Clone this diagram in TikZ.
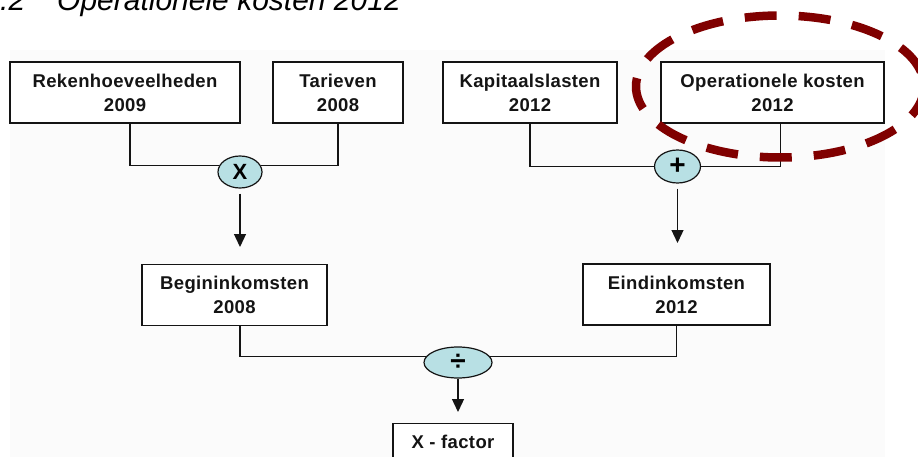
\documentclass[tikz,border=0pt]{standalone}
\usepackage{fontspec}
\setmainfont{Liberation Sans}
\usetikzlibrary{shapes.geometric,arrows.meta}
\definecolor{opfill}{RGB}{184,224,228}
\definecolor{ringred}{RGB}{128,0,0}
\definecolor{panel}{RGB}{251,251,251}
\definecolor{ink}{RGB}{20,20,20}
\begin{document}
\begin{tikzpicture}[x=1pt,y=-1pt,
  box/.style={draw=ink, line width=1.3pt, fill=white, minimum height=61pt,
    inner sep=0pt, align=center, text=ink,
    font=\fontsize{18.5}{24}\selectfont\bfseries\addfontfeatures{LetterSpace=2}},
  op/.style={ellipse, draw=ink, line width=1.2pt, fill=opfill, inner sep=0pt,
    text=black, font=\fontsize{22}{24}\selectfont\bfseries},
  conn/.style={draw=ink, line width=1.3pt},
  arr/.style={conn, -{Triangle[width=12pt,length=13pt]}},
  ring/.style={draw=ringred, line width=8.5pt, dash pattern=on 32pt off 22pt}]
\useasboundingbox (0,0) rectangle (918,457);
\fill[panel] (10,50) rectangle (885,457);
% title
\node[anchor=base west, inner sep=0pt, font=\fontsize{30}{30}\selectfont\itshape] (title) at (57,11)
  {\llap{3.2\hspace{32pt}}Operationele kosten 2012};
% boxes
\node[box, minimum width=230pt] (rek) at (125,92.5) {Rekenhoeveelheden\\2009};
\node[box, minimum width=130pt] (tar) at (338,92.5) {Tarieven\\2008};
\node[box, minimum width=174pt] (kap) at (530,92.5) {Kapitaalslasten\\2012};
\node[box, minimum width=223pt] (ope) at (772.5,92.5) {Operationele kosten\\2012};
\node[box, minimum width=185pt] (beg) at (234.5,295) {Begininkomsten\\2008};
\node[box, minimum width=187pt] (ein) at (676.5,294.5) {Eindinkomsten\\2012};
\node[box, minimum width=120pt, anchor=north] (xf) at (453,423) {X - factor\\\mbox{}};
% operators
\node[op, minimum width=44pt, minimum height=32pt] (mulop) at (240,172) {X};
\node[op, minimum width=46pt, minimum height=33pt, font=\fontsize{28}{28}\selectfont\bfseries] (addop) at (677.5,166.5) {+};
\node[op, minimum width=68pt, minimum height=31pt, font=\fontsize{28}{28}\selectfont\bfseries] (divop) at (458,362.5) {÷};
% connectors
\draw[conn] ([xshift=5pt]rek.south) |- (mulop.162);
\draw[conn] (tar.south) |- (mulop.18);
\draw[conn] (kap.south) |- (addop.west);
\draw[conn] ([xshift=8pt]ope.south) |- (addop.east);
\draw[conn] ([xshift=5.5pt]beg.south) |- (divop.170);
\draw[conn] (ein.south) |- (divop.10);
\coordinate (t1) at (240,247);
\coordinate (t2) at (677.5,243);
\coordinate (t3) at (458,412);
\draw[arr] ([yshift=-5pt]mulop.south) -- (t1);
\draw[arr] ([yshift=-5pt]addop.south) -- (t2);
\draw[arr] (divop.south) -- (t3);
% highlight ring
\draw[ring] (780,86.5) ellipse [x radius=144, y radius=71];
\end{tikzpicture}
\end{document}
